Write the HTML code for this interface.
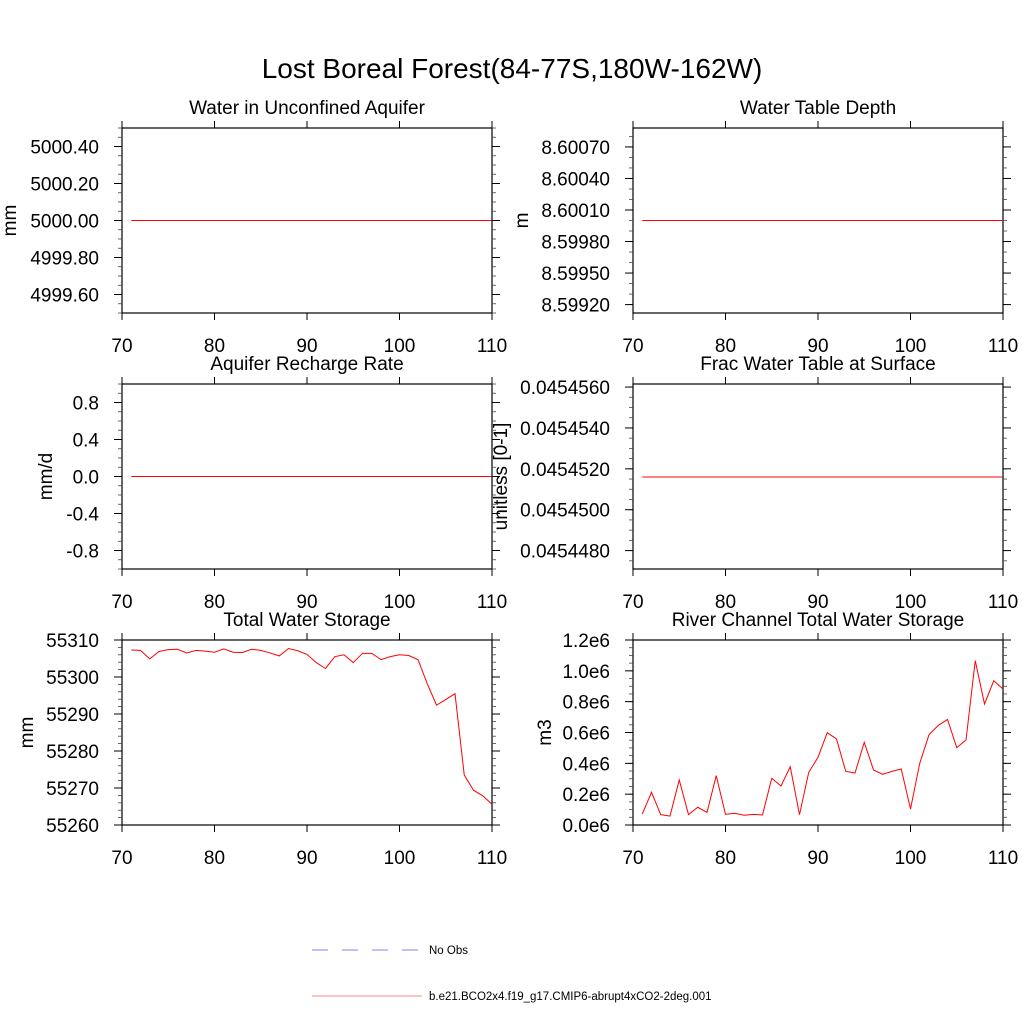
<!DOCTYPE html>
<html><head><meta charset="utf-8"><style>
html,body{margin:0;padding:0;background:#fff}
svg{display:block;font-family:"Liberation Sans",Arial,sans-serif}
</style></head><body>
<svg id="chart" width="1024" height="1024" viewBox="0 0 1024 1024">
<text x="512" y="78" text-anchor="middle" font-size="28">Lost Boreal Forest(84-77S,180W-162W)</text>
<g id="panels"></g>
<g>
<line x1="312" y1="950" x2="418" y2="950" stroke="#8080ff" stroke-width="1" stroke-dasharray="16,14"/>
<text x="429" y="954" font-size="11.5">No Obs</text>
<line x1="312" y1="996" x2="422" y2="996" stroke="#ff8080" stroke-width="1"/>
<text x="429" y="1000" font-size="11.5">b.e21.BCO2x4.f19_g17.CMIP6-abrupt4xCO2-2deg.001</text>
</g>
</svg>
<script>
const years = [];
for (let y = 71; y <= 110; y++) years.push(y);
const xTicks = [70, 80, 90, 100, 110];
const aquiferValues = years.map(() => 5000.0);
const wtdValues = years.map(() => 8.6);
const rechargeValues = years.map(() => 0.0);
const fracValues = years.map(() => 0.0454516);
const twsValues = [55307.3,55307.2,55304.9,55306.9,55307.4,55307.5,55306.5,55307.2,55307.0,55306.7,
55307.6,55306.7,55306.6,55307.5,55307.2,55306.5,55305.7,55307.7,55307.1,55306.1,
55303.9,55302.3,55305.5,55306.0,55303.9,55306.4,55306.4,55304.7,55305.5,55306.0,
55305.8,55304.7,55298.2,55292.4,55293.9,55295.5,55273.5,55269.4,55267.9,55265.6];
const riverValues = [0.071,0.212,0.067,0.058,0.292,0.067,0.115,0.082,0.320,0.069,
0.076,0.063,0.069,0.065,0.303,0.253,0.378,0.067,0.342,0.439,
0.599,0.558,0.348,0.337,0.536,0.357,0.329,0.348,0.363,0.104,
0.400,0.586,0.646,0.685,0.502,0.551,1.066,0.785,0.936,0.882].map(v => v * 1e6);
const aquiferTicks = ["4999.60","4999.80","5000.00","5000.20","5000.40"];
const wtdTicks = ["8.59920","8.59950","8.59980","8.60010","8.60040","8.60070"];
const rechargeTicks = ["-0.8","-0.4","0.0","0.4","0.8"];
const fracTicks = ["0.0454480","0.0454500","0.0454520","0.0454540","0.0454560"];
const twsTicks = ["55260","55270","55280","55290","55300","55310"];
const riverTicks = ["0.0e6","0.2e6","0.4e6","0.6e6","0.8e6","1.0e6","1.2e6"];

const NS = "http://www.w3.org/2000/svg";
const root = document.getElementById("panels");
function mk(tag, attrs, parent) {
  const e = document.createElementNS(NS, tag);
  for (const k in attrs) e.setAttribute(k, attrs[k]);
  parent.appendChild(e);
  return e;
}
const panels = [
  {key:"aquifer", title:"Water in Unconfined Aquifer", unit:"mm", x0:122, y0:128, vals:aquiferValues, ymin:4999.5, ymax:5000.5, ticks:aquiferTicks, minor:0.05, ulx:16},
  {key:"wtd", title:"Water Table Depth", unit:"m", x0:633, y0:128, vals:wtdValues, ymin:8.59912, ymax:8.60088, ticks:wtdTicks, minor:0.0001, ulx:528},
  {key:"recharge", title:"Aquifer Recharge Rate", unit:"mm/d", x0:122, y0:384, vals:rechargeValues, ymin:-1, ymax:1, ticks:rechargeTicks, minor:0.1, ulx:52},
  {key:"frac", title:"Frac Water Table at Surface", unit:"unitless [0-1]", x0:633, y0:384, vals:fracValues, ymin:0.04544710, ymax:0.04545615, ticks:fracTicks, minor:0.0000005, ulx:507},
  {key:"tws", title:"Total Water Storage", unit:"mm", x0:122, y0:640, vals:twsValues, ymin:55260, ymax:55310, ticks:twsTicks, minor:2, ulx:33},
  {key:"river", title:"River Channel Total Water Storage", unit:"m3", x0:633, y0:640, vals:riverValues, ymin:0, ymax:1.2e6, ticks:riverTicks, minor:0.05e6, ulx:551}
];
const W = 370, H = 185;
panels.forEach(p => {
  const g = mk("g", {}, root);
  
  
  const sx = v => p.x0 + (v - 70) / 40 * W;
  const sy = v => p.y0 + H - (v - p.ymin) / (p.ymax - p.ymin) * H;
  const t = mk("text", {x: p.x0 + W / 2, y: p.y0 - 14, "text-anchor": "middle", "font-size": 19}, g);
  t.textContent = p.title;
  
  
  const fr = mk("rect", {x: p.x0, y: p.y0, width: W, height: H, fill: "none", stroke: "#000", "stroke-width": 1.2}, g);
  
  
  xTicks.forEach(v => {
    const x = sx(v);
    mk("line", {x1: x, y1: p.y0 + H, x2: x, y2: p.y0 + H + 7, stroke: "#000"}, g);
    mk("line", {x1: x, y1: p.y0, x2: x, y2: p.y0 - 7, stroke: "#000"}, g);
    const tl = mk("text", {x: x, y: p.y0 + H + 39, "text-anchor": "middle", "font-size": 19}, g);
    tl.textContent = v;
    
    
  });
  const nMin = Math.round((p.ymax - p.ymin) / p.minor);
  const start = Math.ceil(p.ymin / p.minor - 1e-6) * p.minor;
  for (let i = 0; i <= nMin + 1; i++) {
    const v = start + i * p.minor;
    if (v > p.ymax + p.minor * 0.01) break;
    const y = sy(v);
    mk("line", {x1: p.x0, y1: y, x2: p.x0 - 4, y2: y, stroke: "#444", "stroke-width": 0.8}, g);
    mk("line", {x1: p.x0 + W, y1: y, x2: p.x0 + W + 4, y2: y, stroke: "#444", "stroke-width": 0.8}, g);
  }
  p.ticks.forEach(lbl => {
    const y = sy(parseFloat(lbl));
    mk("line", {x1: p.x0, y1: y, x2: p.x0 - 8, y2: y, stroke: "#000"}, g);
    mk("line", {x1: p.x0 + W, y1: y, x2: p.x0 + W + 8, y2: y, stroke: "#000"}, g);
    const tl = mk("text", {x: p.x0 - 23, y: y + 7, "text-anchor": "end", "font-size": 19}, g);
    tl.textContent = lbl;
    
    
  });
  const cy = p.y0 + H / 2;
  const ul = mk("text", {x: p.ulx, y: cy, "text-anchor": "middle", "font-size": 19, transform: `rotate(-90 ${p.ulx} ${cy})`}, g);
  ul.textContent = p.unit;
  
  
  const pts = years.map((yr, i) => sx(yr).toFixed(2) + "," + sy(p.vals[i]).toFixed(2)).join(" ");
  const pl = mk("polyline", {points: pts, fill: "none", stroke: "#ff0000", "stroke-width": 1}, g);
  
  
});
</script>
</body></html>
